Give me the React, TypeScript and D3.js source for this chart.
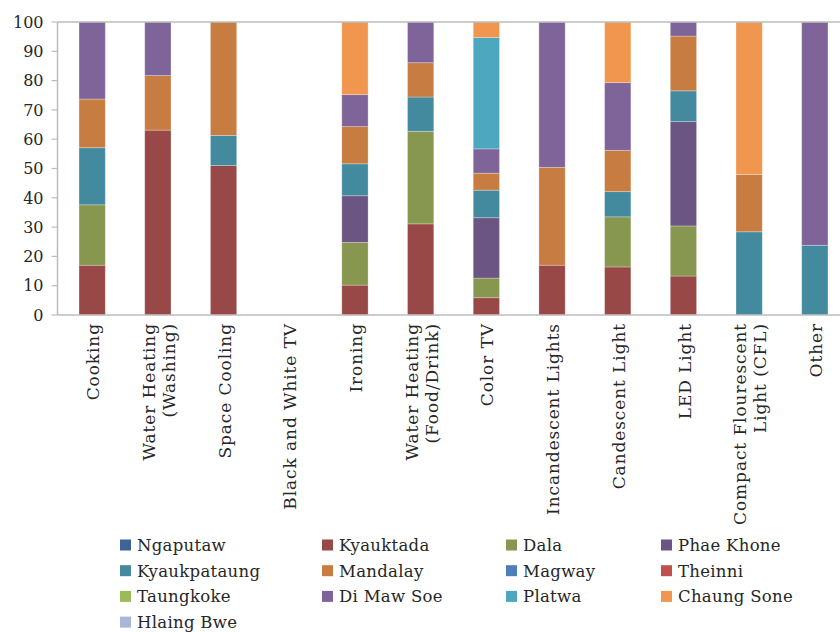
import { useEffect, useRef } from 'react';
import * as d3 from 'd3';

const categories = [
  'Cooking',
  'Water Heating (Washing)',
  'Space Cooling',
  'Black and White TV',
  'Ironing',
  'Water Heating (Food/Drink)',
  'Color TV',
  'Incandescent Lights',
  'Candescent Light',
  'LED Light',
  'Compact Flourescent Light (CFL)',
  'Other',
];

const categoryLines = [
  ['Cooking'],
  ['Water Heating', '(Washing)'],
  ['Space Cooling'],
  ['Black and White TV'],
  ['Ironing'],
  ['Water Heating', '(Food/Drink)'],
  ['Color TV'],
  ['Incandescent Lights'],
  ['Candescent Light'],
  ['LED Light'],
  ['Compact Flourescent', 'Light (CFL)'],
  ['Other'],
];

const seriesNames = [
  'Ngaputaw',
  'Kyauktada',
  'Dala',
  'Phae Khone',
  'Kyaukpataung',
  'Mandalay',
  'Magway',
  'Theinni',
  'Taungkoke',
  'Di Maw Soe',
  'Platwa',
  'Chaung Sone',
  'Hlaing Bwe',
];

const seriesColors = [
  '#3d6399',
  '#984846',
  '#87974f',
  '#6b5582',
  '#438a9f',
  '#c77d42',
  '#4f7db6',
  '#bf504d',
  '#9bbb59',
  '#7f6499',
  '#4ca7bf',
  '#f0964f',
  '#a8b7d5',
];

const ngaputaw = [0, 0, 0, 0, 0, 0, 0, 0, 0, 0, 0, 0];
const kyauktada = [17.0, 63.1, 51.0, 0, 10.2, 31.1, 5.9, 17.0, 16.4, 13.3, 0, 0];
const dala = [20.6, 0, 0, 0, 14.6, 31.6, 6.7, 0, 17.1, 17.1, 0, 0];
const phaeKhone = [0, 0, 0, 0, 15.9, 0, 20.6, 0, 0, 35.6, 0, 0];
const kyaukpataung = [19.5, 0, 10.3, 0, 10.9, 11.7, 9.4, 0, 8.6, 10.5, 28.4, 23.8];
const mandalay = [16.6, 18.6, 38.7, 0, 12.7, 11.7, 5.8, 33.4, 14.1, 18.7, 19.6, 0];
const magway = [0, 0, 0, 0, 0, 0, 0, 0, 0, 0, 0, 0];
const theinni = [0, 0, 0, 0, 0, 0, 0, 0, 0, 0, 0, 0];
const taungkoke = [0, 0, 0, 0, 0, 0, 0, 0, 0, 0, 0, 0];
const diMawSoe = [26.3, 18.3, 0, 0, 10.9, 13.9, 8.3, 49.6, 23.1, 4.8, 0, 76.2];
const platwa = [0, 0, 0, 0, 0, 0, 38.0, 0, 0, 0, 0, 0];
const chaungSone = [0, 0, 0, 0, 24.8, 0, 5.3, 0, 20.7, 0, 52.0, 0];
const hlaingBwe = [0, 0, 0, 0, 0, 0, 0, 0, 0, 0, 0, 0];

const seriesValues = [
  ngaputaw,
  kyauktada,
  dala,
  phaeKhone,
  kyaukpataung,
  mandalay,
  magway,
  theinni,
  taungkoke,
  diMawSoe,
  platwa,
  chaungSone,
  hlaingBwe,
];

const yTicks = [0, 10, 20, 30, 40, 50, 60, 70, 80, 90, 100];

const WIDTH = 840;
const HEIGHT = 632;
const FONT = '"DejaVu Serif", serif';

const StackedChart = () => {
  const svgRef = useRef<SVGSVGElement>(null);

  useEffect(() => {
    if (!svgRef.current) return;
    const svg = d3.select(svgRef.current);
    svg.selectAll('*').remove();

    const margin = { top: 22, left: 58, bottom: 315 };
    const plotRight = 849;

    const rows = categories.map((c, i) => {
      const row: Record<string, number | string> = { category: c };
      seriesNames.forEach((s, j) => {
        row[s] = seriesValues[j][i];
      });
      return row;
    });

    const stacked = d3.stack<Record<string, number | string>>().keys(seriesNames)(rows as any);

    const x = d3
      .scaleBand()
      .domain(categories)
      .range([margin.left, plotRight])
      .paddingInner(0.6)
      .paddingOuter(0.32);
    const y = d3.scaleLinear().domain([0, 100]).range([margin.bottom, margin.top]);
    const color = d3.scaleOrdinal<string, string>().domain(seriesNames).range(seriesColors);

    // bars
    const layers = svg
      .append('g')
      .selectAll('g')
      .data(stacked)
      .enter()
      .append('g')
      .attr('fill', (d) => color(d.key));

    layers
      .selectAll('rect')
      .data((d) => d.filter((p) => p[1] - p[0] > 0))
      .enter()
      .append('rect')
      .attr('x', (d) => x(d.data.category as string) || 0)
      .attr('y', (d) => y(d[1]))
      .attr('width', x.bandwidth())
      .attr('height', (d) => y(d[0]) - y(d[1]))
      .attr('stroke', '#ffffff')
      .attr('stroke-opacity', 0.35)
      .attr('stroke-width', 0.8);

    const axisColor = '#bcbcbc';

    // top border line at 100
    svg
      .append('line')
      .attr('x1', margin.left - 0.5)
      .attr('x2', WIDTH)
      .attr('y1', y(100))
      .attr('y2', y(100))
      .attr('stroke', axisColor)
      .attr('stroke-width', 1.5);

    // y axis
    const yAxis = svg.append('g').attr('transform', `translate(${margin.left - 0.5},0)`);
    yAxis
      .append('line')
      .attr('y1', y(0))
      .attr('y2', y(100))
      .attr('stroke', axisColor)
      .attr('stroke-width', 1.5);
    yAxis
      .selectAll('.tick')
      .data(yTicks)
      .enter()
      .append('line')
      .attr('x1', -6)
      .attr('x2', 0)
      .attr('y1', (d) => y(d))
      .attr('y2', (d) => y(d))
      .attr('stroke', axisColor)
      .attr('stroke-width', 1.2);
    yAxis
      .selectAll('text')
      .data(yTicks)
      .enter()
      .append('text')
      .attr('x', -14)
      .attr('y', (d) => y(d))
      .attr('dy', '0.36em')
      .attr('text-anchor', 'end')
      .style('font-family', FONT)
      .style('font-size', '16px')
      .style('fill', '#262626')
      .text((d) => d);

    // x axis
    svg
      .append('line')
      .attr('x1', margin.left - 0.5)
      .attr('x2', WIDTH)
      .attr('y1', y(0))
      .attr('y2', y(0))
      .attr('stroke', axisColor)
      .attr('stroke-width', 1.5);

    const lineGap = 20;
    categories.forEach((c, i) => {
      const cx = (x(c) || 0) + x.bandwidth() / 2;
      const lines = categoryLines[i];
      lines.forEach((ln, k) => {
        const offset = (k - (lines.length - 1) / 2) * lineGap;
        svg
          .append('text')
          .attr('transform', `translate(${cx + offset + 1},${y(0) + 8}) rotate(-90)`)
          .attr('text-anchor', 'end')
          .attr('dy', '0.36em')
          .style('font-family', FONT)
          .style('font-size', '17px')
          .style('letter-spacing', '0.9px')
          .style('fill', '#262626')
          .text(ln);
      });
    });

    // legend
    const legendCols = [120, 322, 506, 661];
    const legendTop = 545;
    const legendRow = 25.7;
    const legend = svg
      .append('g')
      .selectAll('g')
      .data(seriesNames)
      .enter()
      .append('g')
      .attr(
        'transform',
        (d, i) => `translate(${legendCols[i % 4]},${legendTop + Math.floor(i / 4) * legendRow})`
      );
    legend
      .append('rect')
      .attr('x', 0)
      .attr('y', -5.5)
      .attr('width', 11)
      .attr('height', 11)
      .attr('fill', (d) => color(d));
    legend
      .append('text')
      .attr('x', 17)
      .attr('y', 0)
      .attr('dy', '0.36em')
      .style('font-family', FONT)
      .style('font-size', '16.5px')
      .style('letter-spacing', '0.3px')
      .style('fill', '#262626')
      .text((d) => d);
  }, []);

  return (
    <svg
      ref={svgRef}
      width={WIDTH}
      height={HEIGHT}
      style={{ position: 'absolute', left: 0, top: 0, background: '#ffffff' }}
    />
  );
};

export default function App() {
  return <StackedChart />;
}
